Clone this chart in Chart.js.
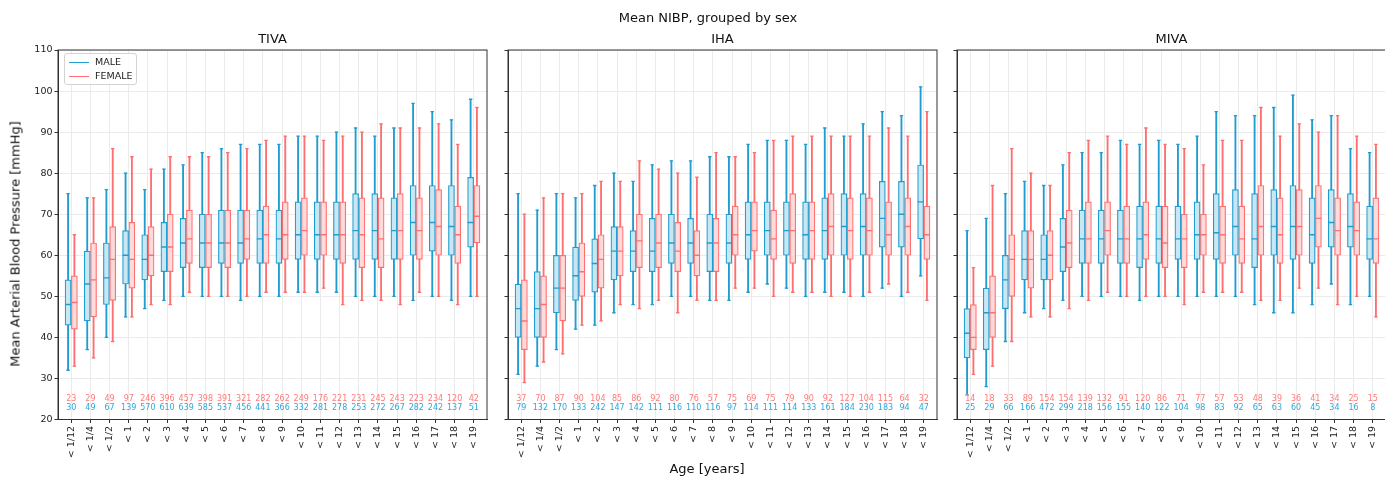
<!DOCTYPE html>
<html>
<head>
<meta charset="utf-8">
<script src="https://cdn.jsdelivr.net/npm/chart.js@4.4.1/dist/chart.umd.min.js"></script>
<style>
body { margin: 0; background: #fff; }
#fig { position: relative; width: 1385px; height: 477px; overflow: hidden; font-family: "DejaVu Sans", sans-serif; color: #111; }
#fig canvas { position: absolute; top: 0; }
.txt { position: absolute; white-space: nowrap; transform: translate(-50%, -50%); font-size: 13px; }
#legend { position: absolute; left: 64px; top: 53px; width: 71px; height: 30px; border: 1px solid #d3d3d3; border-radius: 3px; background: rgba(255,255,255,0.85); font-size: 9.5px; color: #222; }
#legend .row { position: absolute; left: 4px; height: 12px; line-height: 12px; }
#legend .line { display: inline-block; width: 20px; height: 1.5px; vertical-align: middle; margin-right: 6px; }
</style>
</head>
<body>
<div id="fig">
  <canvas id="tiva" width="485" height="477" style="left:8px"></canvas>
  <canvas id="iha" width="485" height="477" style="left:458px"></canvas>
  <canvas id="miva" width="485" height="477" style="left:907px"></canvas>
  <div class="txt" style="left:708px; top:17px;">Mean NIBP, grouped by sex</div>
  <div class="txt" style="left:707px; top:468px;">Age [years]</div>
  <div class="txt" style="left:15px; top:244px; transform: translate(-50%, -50%) rotate(-90deg);">Mean Arterial Blood Pressure [mmHg]</div>
  <div id="legend">
    <div class="row" style="top:2px"><span class="line" style="background:#1f9cd0"></span>MALE</div>
    <div class="row" style="top:16px"><span class="line" style="background:#ff6f6f"></span>FEMALE</div>
  </div>
</div>
<script>
// Data

var ageLabels = ["< 1/12", "< 1/4", "< 1/2", "< 1", "< 2", "< 3", "< 4", "< 5", "< 6", "< 7", "< 8",
    "< 9", "< 10", "< 11", "< 12", "< 13", "< 14", "< 15", "< 16", "< 17", "< 18", "< 19"];

// TIVA
var tivaMaleLow = [32, 37, 40, 45, 47, 49, 50, 50, 50, 49, 50, 50, 51, 51, 51, 50, 50, 50, 49, 50, 49, 50];
var tivaMaleQ1 = [43, 44, 48, 53, 54, 56, 57, 57, 58, 58, 58, 58, 59, 59, 59, 59, 59, 59, 60, 61, 60, 62];
var tivaMaleMed = [48, 53, 54.5, 60, 59, 62, 63, 63, 63, 63, 64, 64, 65, 65, 65, 66, 66, 66, 68, 68, 67, 68];
var tivaMaleQ3 = [54, 61, 63, 66, 65, 68, 69, 70, 71, 71, 71, 71, 73, 73, 73, 75, 75, 74, 77, 77, 77, 79];
var tivaMaleHigh = [75, 74, 76, 80, 76, 81, 82, 85, 86, 87, 87, 87, 89, 89, 90, 91, 89, 91, 97, 95, 93, 98];
var tivaFemaleLow = [33, 35, 39, 45, 48, 48, 51, 50, 50, 50, 51, 51, 51, 52, 48, 49, 49, 48, 51, 50, 48, 50];
var tivaFemaleQ1 = [42, 45, 49, 52, 55, 56, 58, 57, 57, 59, 58, 59, 60, 60, 58, 57, 57, 59, 59, 60, 58, 63];
var tivaFemaleMed = [48.5, 54, 59, 59, 60, 62, 64, 63, 63, 64, 65, 65, 66, 65, 65, 65, 64, 66, 66, 67, 65, 69.5];
var tivaFemaleQ3 = [55, 63, 67, 68, 67, 70, 71, 70, 71, 71, 72, 73, 74, 73, 73, 74, 74, 75, 74, 76, 72, 77];
var tivaFemaleHigh = [65, 74, 86, 84, 81, 84, 84, 84, 85, 86, 88, 89, 89, 88, 89, 90, 92, 91, 91, 92, 87, 96];
var tivaMaleN = [30, 49, 67, 139, 570, 610, 639, 585, 537, 456, 441, 366, 332, 281, 278, 253, 272, 267, 282, 242, 137, 51];
var tivaFemaleN = [23, 29, 49, 97, 246, 396, 457, 398, 391, 321, 282, 262, 249, 176, 221, 231, 245, 243, 223, 234, 120, 42];

// IHA
var ihaMaleLow = [31, 33, 37, 42, 43, 46, 48, 48, 50, 50, 49, 49, 51, 53, 52, 50, 51, 51, 50, 52, 50, 55];
var ihaMaleQ1 = [40, 40, 46, 49, 51, 54, 56, 56, 58, 58, 56, 58, 59, 60, 60, 59, 59, 60, 60, 62, 62, 64];
var ihaMaleMed = [47, 47, 52, 55, 58, 61, 61, 61, 63, 63, 63, 63, 65, 66, 66, 65, 66, 67, 67, 69, 70, 73];
var ihaMaleQ3 = [53, 56, 60, 62, 64, 67, 66, 69, 70, 69, 70, 70, 73, 73, 73, 73, 74, 75, 75, 78, 78, 82];
var ihaMaleHigh = [75, 71, 75, 74, 77, 80, 78, 82, 83, 83, 84, 84, 87, 88, 88, 87, 91, 89, 92, 95, 94, 101];
var ihaFemaleLow = [29, 34, 36, 43, 44, 48, 47, 49, 46, 49, 49, 52, 52, 50, 51, 51, 50, 50, 51, 53, 51, 49];
var ihaFemaleQ1 = [37, 40, 44, 50, 52, 55, 57, 57, 56, 55, 56, 60, 61, 59, 58, 59, 60, 59, 60, 60, 60, 59];
var ihaFemaleMed = [44, 48, 52, 56, 59, 61, 63.5, 63, 61, 60, 63, 65, 66, 64, 66, 66, 67, 66, 66, 65, 67, 65];
var ihaFemaleQ3 = [54, 55, 60, 63, 65, 67, 70, 70, 68, 66, 69, 72, 73, 71, 75, 73, 75, 74, 74, 73, 74, 72];
var ihaFemaleHigh = [70, 74, 75, 75, 78, 78, 83, 81, 80, 79, 85, 84, 85, 88, 89, 89, 89, 89, 89, 91, 89, 95];
var ihaMaleN = [79, 132, 170, 133, 242, 147, 142, 111, 116, 110, 116, 97, 114, 111, 114, 133, 161, 184, 230, 183, 94, 47];
var ihaFemaleN = [37, 70, 87, 90, 104, 85, 86, 92, 80, 76, 57, 75, 69, 75, 79, 90, 92, 127, 104, 115, 64, 32];

// MIVA
var mivaMaleLow = [26, 28, 39, 46, 47, 49, 50, 50, 50, 49, 50, 50, 50, 50, 50, 48, 46, 46, 48, 53, 48, 50];
var mivaMaleQ1 = [35, 37, 47, 54, 54, 56, 58, 58, 58, 57, 58, 59, 59, 59, 60, 57, 60, 59, 58, 62, 62, 59];
var mivaMaleMed = [41, 46, 54, 59, 59, 62, 64, 64, 64, 64, 64, 64, 65, 65.5, 67, 64, 67, 67, 65, 68, 67, 64];
var mivaMaleQ3 = [47, 52, 60, 66, 65, 69, 71, 71, 71, 72, 72, 72, 73, 75, 76, 75, 76, 77, 74, 76, 75, 72];
var mivaMaleHigh = [66, 69, 75, 78, 77, 82, 85, 85, 88, 87, 88, 87, 89, 95, 94, 94, 96, 99, 93, 94, 86, 85];
var mivaFemaleLow = [31, 33, 39, 45, 45, 47, 49, 51, 50, 50, 50, 48, 51, 51, 51, 49, 49, 52, 52, 48, 50, 45];
var mivaFemaleQ1 = [37, 40, 50, 52, 54, 57, 58, 60, 58, 59, 57, 57, 60, 58, 58, 60, 58, 60, 62, 60, 60, 58];
var mivaFemaleMed = [40, 46, 59, 59, 60, 63, 64, 66, 64, 65, 63, 64, 65, 65, 64, 67, 65, 67, 69, 66, 66, 64];
var mivaFemaleQ3 = [48, 55, 65, 66, 66, 71, 73, 73, 72, 73, 72, 70, 70, 72, 72, 77, 74, 76, 77, 74, 73, 74];
var mivaFemaleHigh = [57, 77, 86, 80, 77, 85, 88, 89, 87, 91, 87, 86, 82, 88, 88, 96, 89, 92, 90, 94, 89, 87];
var mivaMaleN = [25, 29, 66, 166, 472, 299, 218, 156, 155, 140, 122, 104, 98, 83, 92, 65, 63, 60, 45, 34, 16, 8];
var mivaFemaleN = [14, 18, 33, 89, 154, 154, 139, 132, 91, 120, 86, 71, 77, 57, 53, 48, 39, 36, 41, 34, 25, 15];

// Style

var maleColor = '#1f9cd0';
var maleFill = '#c9e7f3';
var femaleColor = '#ff6f6f';
var femaleFill = '#ffdada';
var shift = 0.165;

Chart.defaults.font.family = '"DejaVu Sans", sans-serif';
Chart.defaults.color = '#222';

// Box datasets: median, caps, box, whisker

function boxSets(low, q1, med, q3, high, off, edge, fill) {
    function pts(arr) {
        return arr.map(function (v, i) { return { x: i + off, y: v }; });
    }
    return [
        {
            type: 'line', data: pts(med), showLine: false, pointStyle: 'line',
            pointRadius: 3, pointBorderWidth: 1.4, pointBorderColor: edge, order: 0
        },
        {
            type: 'line', data: pts(low).concat(pts(high)), showLine: false, pointStyle: 'line',
            pointRadius: 1.7, pointBorderWidth: 1.3, pointBorderColor: edge, order: 1
        },
        {
            type: 'bar', data: q1.map(function (v, i) { return { x: i + off, y: [v, q3[i]] }; }),
            backgroundColor: fill, borderColor: edge, borderWidth: 1.2, borderSkipped: false,
            grouped: false, maxBarThickness: 6, categoryPercentage: 1, barPercentage: 1, order: 2
        },
        {
            type: 'bar', data: low.map(function (v, i) { return { x: i + off, y: [v, high[i]] }; }),
            backgroundColor: edge, borderWidth: 0,
            grouped: false, maxBarThickness: 1.2, categoryPercentage: 1, barPercentage: 1, order: 3
        }
    ];
}

// Counts + frame

var countsPlugin = {
    id: 'counts',
    afterDatasetsDraw: function (chart, args, opts) {
        var ctx = chart.ctx;
        var x = chart.scales.x, y = chart.scales.y;
        ctx.save();
        ctx.font = '8px "DejaVu Sans"';
        ctx.textAlign = 'center';
        ctx.textBaseline = 'middle';
        for (let i = 0; i < ageLabels.length; i++) {
            ctx.fillStyle = '#ff7b7b';
            ctx.fillText(opts.female[i], x.getPixelForValue(i), y.getPixelForValue(25.1));
            ctx.fillStyle = '#2fa6da';
            ctx.fillText(opts.male[i], x.getPixelForValue(i), y.getPixelForValue(22.9));
        }
        var a = chart.chartArea;
        ctx.strokeStyle = '#333';
        ctx.lineWidth = 1;
        ctx.strokeRect(a.left, a.top, a.right - a.left, a.bottom - a.top);
        ctx.restore();
    }
};

function makePanel(id, title, m, f, maleN, femaleN, showY) {
    var ctx = document.getElementById(id).getContext('2d');
    return new Chart(ctx, {
        type: 'bar',
        data: {
            datasets: boxSets(m[0], m[1], m[2], m[3], m[4], -shift, maleColor, maleFill)
                .concat(boxSets(f[0], f[1], f[2], f[3], f[4], shift, femaleColor, femaleFill))
        },
        options: {
            responsive: false,
            animation: false,
            events: [],
            layout: { padding: { left: 0, right: 6, top: 0, bottom: 0 } },
            plugins: {
                legend: { display: false },
                tooltip: { enabled: false },
                title: {
                    display: true, text: title, fullSize: false, color: '#111',
                    font: { size: 13, weight: 'normal' },
                    padding: { top: 32.2, bottom: 2.2 }
                },
                counts: { male: maleN, female: femaleN }
            },
            scales: {
                x: {
                    type: 'linear', min: -0.69, max: 21.69, offset: false,
                    ticks: {
                        stepSize: 1, includeBounds: false, autoSkip: false,
                        minRotation: 90, maxRotation: 90, padding: 3, color: '#222',
                        font: { size: 9.5 },
                        callback: function (v) { return Number.isInteger(v) ? ageLabels[v] : ''; }
                    },
                    grid: { offset: false, color: '#ebebeb', tickColor: '#333', tickLength: 3.5 },
                    border: { color: '#333', width: 1 },
                    afterFit: function (s) { s.height = 57.5; s.paddingLeft = 0; s.paddingRight = 0; }
                },
                y: {
                    min: 20, max: 110, beginAtZero: false,
                    ticks: { stepSize: 10, display: showY, padding: 2, color: '#222', font: { size: 9.5 } },
                    grid: { color: '#ebebeb', tickColor: '#333', tickLength: 3.5 },
                    border: { color: '#333', width: 1 },
                    afterFit: function (s) { s.width = 50; }
                }
            }
        },
        plugins: [countsPlugin]
    });
}

makePanel('tiva', 'TIVA',
    [tivaMaleLow, tivaMaleQ1, tivaMaleMed, tivaMaleQ3, tivaMaleHigh],
    [tivaFemaleLow, tivaFemaleQ1, tivaFemaleMed, tivaFemaleQ3, tivaFemaleHigh],
    tivaMaleN, tivaFemaleN, true);

makePanel('iha', 'IHA',
    [ihaMaleLow, ihaMaleQ1, ihaMaleMed, ihaMaleQ3, ihaMaleHigh],
    [ihaFemaleLow, ihaFemaleQ1, ihaFemaleMed, ihaFemaleQ3, ihaFemaleHigh],
    ihaMaleN, ihaFemaleN, false);

makePanel('miva', 'MIVA',
    [mivaMaleLow, mivaMaleQ1, mivaMaleMed, mivaMaleQ3, mivaMaleHigh],
    [mivaFemaleLow, mivaFemaleQ1, mivaFemaleMed, mivaFemaleQ3, mivaFemaleHigh],
    mivaMaleN, mivaFemaleN, false);
</script>
</body>
</html>
